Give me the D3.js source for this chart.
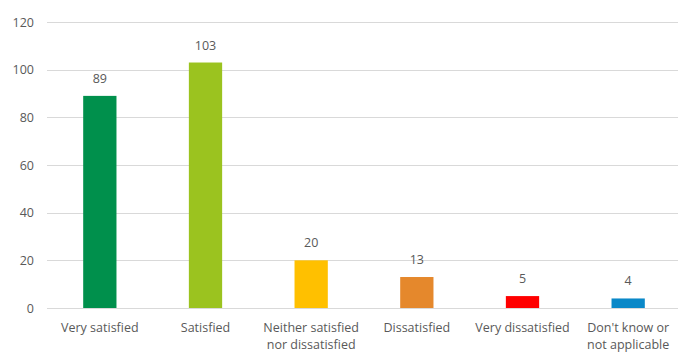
<!DOCTYPE html>
<html>
<head>
<meta charset="utf-8">
<script src="https://cdn.jsdelivr.net/npm/d3@7"></script>
<style>
  html, body { margin: 0; padding: 0; background: #fff; }
  svg { display: block; }
  text { font-family: "Open Sans", "Noto Sans", sans-serif; fill: #595959; }
</style>
</head>
<body>
<svg id="chart" width="678" height="352"></svg>
<script>
// Survey responses by satisfaction level
const categories = [
  ["Very satisfied"],
  ["Satisfied"],
  ["Neither satisfied", "nor dissatisfied"],
  ["Dissatisfied"],
  ["Very dissatisfied"],
  ["Don't know or", "not applicable"]
];
const counts = [89, 103, 20, 13, 5, 4];
const barColors = ["#00904c", "#9bc31f", "#ffc000", "#e5882c", "#ff0000", "#0a88c8"];
const yTicks = [0, 20, 40, 60, 80, 100, 120];

const svg = d3.select("#chart");
const plot = { left: 47, right: 681, top: 22, bottom: 308 };

const x = d3.scaleBand()
  .domain(d3.range(categories.length))
  .range([plot.left, plot.right])
  .paddingInner(0.685)
  .paddingOuter(0.3425);

const y = d3.scaleLinear().domain([0, 120]).range([plot.bottom, plot.top]);

// Horizontal gridlines
svg.append("g")
  .selectAll("line")
  .data(yTicks)
  .join("line")
  .attr("x1", plot.left)
  .attr("x2", plot.right)
  .attr("y1", d => Math.round(y(d)) + 0.5)
  .attr("y2", d => Math.round(y(d)) + 0.5)
  .attr("stroke", "#d9d9d9")
  .attr("stroke-width", 1);

// Y tick labels
const yAxis = d3.axisLeft(y).tickValues(yTicks).tickSize(0).tickPadding(0);
const yg = svg.append("g")
  .attr("transform", `translate(${plot.left - 13},0)`)
  .call(yAxis);
yg.select(".domain").remove();
yg.selectAll("text")
  .attr("font-size", 12.5)
  .attr("font-family", "'Open Sans', sans-serif")
  .attr("fill", "#595959");

// Bars
svg.append("g")
  .selectAll("rect")
  .data(counts)
  .join("rect")
  .attr("x", (d, i) => x(i))
  .attr("width", x.bandwidth())
  .attr("y", d => y(d))
  .attr("height", d => y(0) - y(d))
  .attr("fill", (d, i) => barColors[i]);

// Value labels
svg.append("g")
  .selectAll("text")
  .data(counts)
  .join("text")
  .attr("x", (d, i) => x(i) + x.bandwidth() / 2)
  .attr("y", d => y(d) - 13)
  .attr("text-anchor", "middle")
  .attr("font-size", 12.5)
  .text(d => d);

// Category labels
const xLabels = svg.append("g")
  .selectAll("text")
  .data(categories)
  .join("text")
  .attr("x", (d, i) => x(i) + x.bandwidth() / 2)
  .attr("y", 332)
  .attr("text-anchor", "middle")
  .attr("font-size", 12.5);
xLabels.selectAll("tspan")
  .data(d => d)
  .join("tspan")
  .attr("x", function () { return d3.select(this.parentNode).attr("x"); })
  .attr("dy", (d, j) => j === 0 ? 0 : 17)
  .text(d => d);
</script>
</body>
</html>
